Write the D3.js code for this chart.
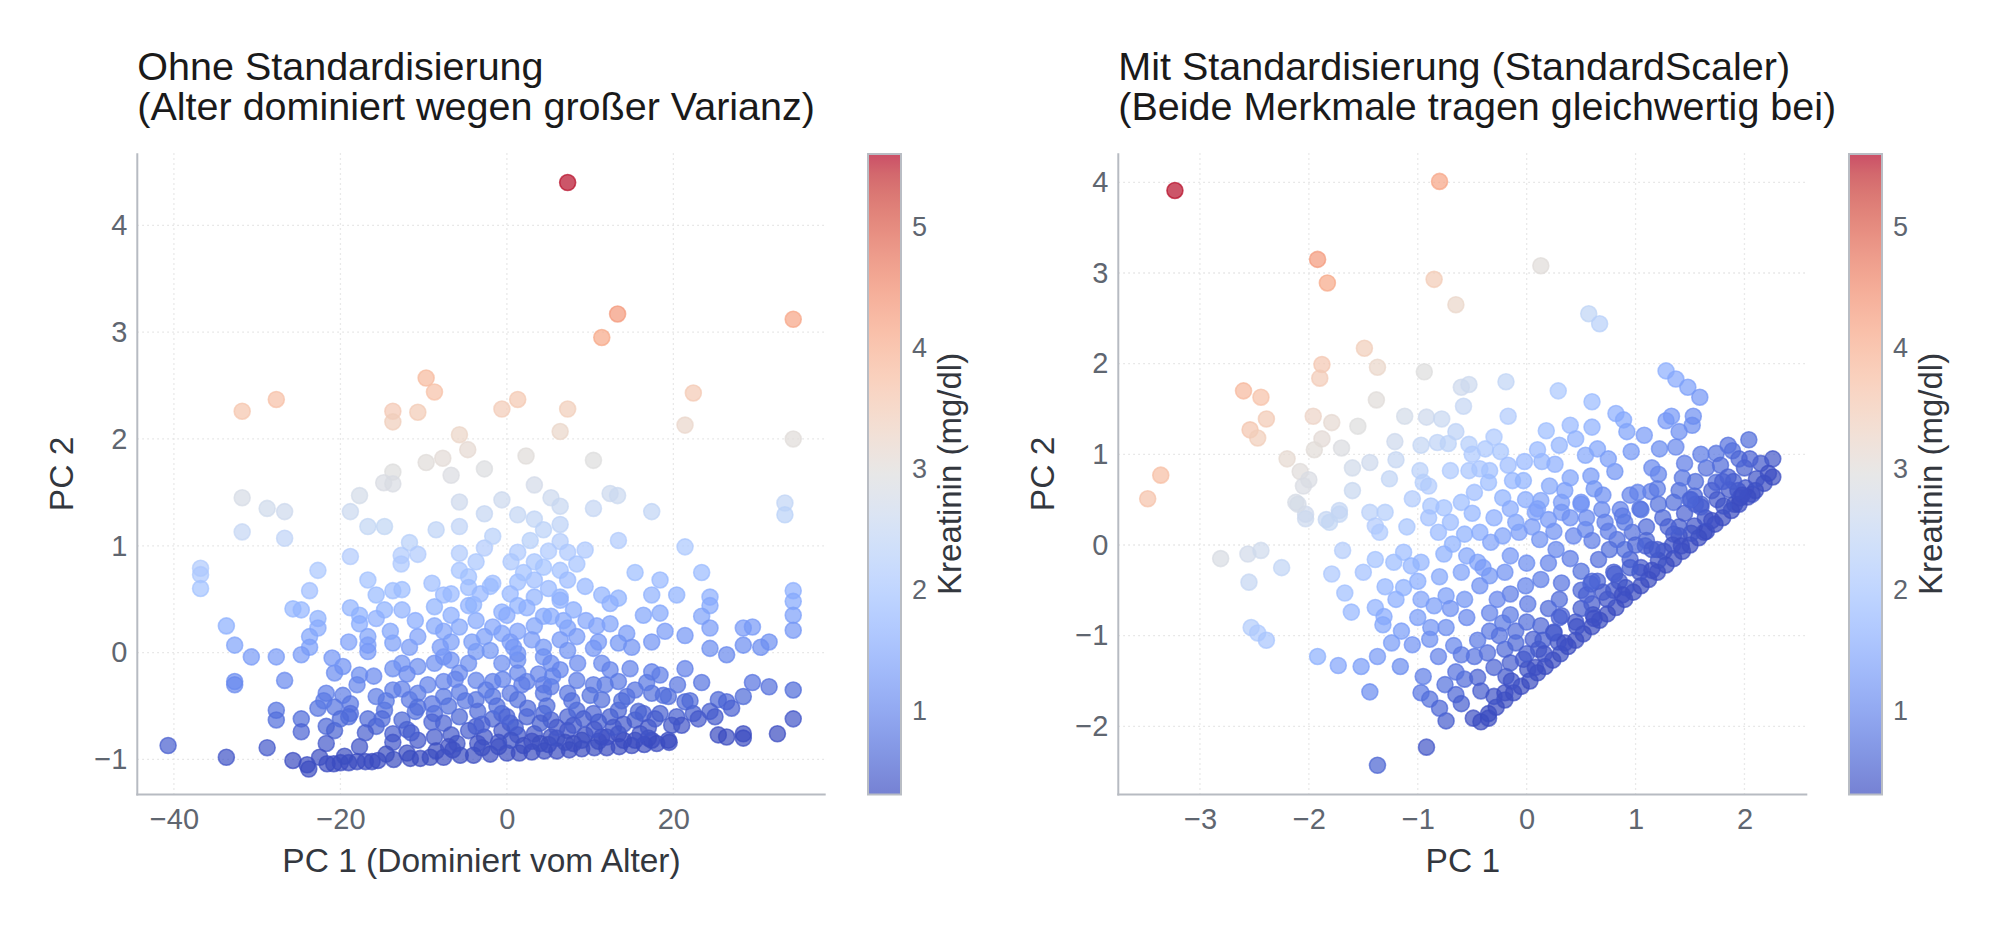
<!DOCTYPE html>
<html>
<head>
<meta charset="utf-8">
<script src="https://cdn.jsdelivr.net/npm/d3@7"></script>
<style>
  body { margin: 0; background: #fff; }
  text { font-family: "Liberation Sans", Arial, sans-serif; }
</style>
</head>
<body>
<div id="chart"></div>
<script>
// Kreatinin colour range and colorbar ticks
const kreatininRange = [0.312, 5.606];
const kreatininTicks = [1, 2, 3, 4, 5];

// coolwarm colormap anchors (low -> high)
const coolwarm = [
  "#3b4cc0","#445acc","#4d68d7","#5775e1","#6282ea","#6c8ef1","#779af7","#82a5fb",
  "#8db0fe","#98b9ff","#a3c2ff","#aec9fd","#b8d0f9","#c2d5f4","#ccd9ee","#d5dbe6",
  "#dddddd","#e5d8d1","#ecd3c5","#f1ccb8","#f5c4ac","#f7bb9f","#f7b193","#f7a686",
  "#f49a7b","#f18d6f","#ec7f63","#e57059","#de604d","#d55042","#cb3e38","#c0282f","#b40426"
];

// axis ticks
const ohneXTicks = [-40, -20, 0, 20];
const ohneYTicks = [-1, 0, 1, 2, 3, 4];
const mitXTicks = [-3, -2, -1, 0, 1, 2];
const mitYTicks = [-2, -1, 0, 1, 2, 3, 4];

// Ohne Standardisierung: [PC 1, PC 2, Kreatinin]
const ohneStd = [
  [7.3,4.40,5.56],[13.3,3.17,4.30],[11.4,2.95,4.09],[34.4,3.12,4.15],[-9.7,2.57,3.82],[-8.7,2.44,3.68],
  [-27.7,2.37,3.71],[-31.8,2.26,3.62],[-13.7,2.26,3.53],[-13.7,2.16,3.43],[-10.7,2.25,3.50],[-0.6,2.28,3.48],
  [1.3,2.37,3.56],[7.3,2.28,3.44],[22.4,2.43,3.52],[21.4,2.13,3.22],[6.4,2.07,3.24],[-5.7,2.04,3.27],
  [-4.7,1.90,3.12],[34.4,2.00,3.03],[-7.7,1.82,3.06],[-9.7,1.78,3.03],[2.3,1.84,3.03],[10.4,1.80,2.95],
  [-2.7,1.72,2.93],[-13.7,1.69,2.96],[-14.8,1.59,2.86],[-13.7,1.58,2.85],[-6.7,1.66,2.89],[3.3,1.57,2.75],
  [-31.8,1.45,2.81],[-17.7,1.47,2.76],[-28.8,1.35,2.69],[-26.7,1.32,2.65],[-18.8,1.32,2.61],[-5.7,1.41,2.64],
  [-0.6,1.43,2.63],[5.3,1.45,2.62],[6.4,1.37,2.54],[12.4,1.49,2.63],[13.3,1.47,2.60],[10.4,1.35,2.50],
  [17.4,1.32,2.43],[33.4,1.40,2.43],[33.4,1.29,2.32],[-2.7,1.30,2.51],[1.3,1.29,2.48],[3.3,1.25,2.43],
  [-31.8,1.13,2.49],[-26.7,1.07,2.41],[-16.7,1.18,2.46],[-14.7,1.18,2.45],[-5.7,1.18,2.41],[6.4,1.20,2.37],
  [4.4,1.15,2.33],[13.4,1.05,2.18],[-11.7,1.03,2.29],[-18.8,0.90,2.19],[-12.7,0.91,2.17],[-10.7,0.92,2.17],
  [-5.7,0.93,2.16],[-2.7,0.98,2.19],[-1.7,1.09,2.30],[1.3,0.94,2.13],[6.4,1.04,2.21],[7.3,0.94,2.10],
  [9.4,0.96,2.11],[8.4,0.83,1.99],[3.3,0.85,2.03],[4.4,0.80,1.98],[21.4,0.99,2.08],[-12.7,0.83,2.10],
  [-3.7,0.85,2.07],[-36.8,0.79,2.17],[-36.8,0.73,2.11],[-36.8,0.60,1.98],[-22.7,0.77,2.08],[-5.7,0.77,2.00],
  [-4.6,0.71,1.93],[6.4,0.77,1.94],[15.4,0.75,1.87],[23.4,0.75,1.83],[-16.7,0.68,1.96],[1.3,0.66,1.85],
  [-1.7,0.65,1.86],[3.3,0.68,1.86],[7.3,0.68,1.84],[9.4,0.62,1.77],[18.4,0.68,1.79],[-23.7,0.58,1.90],
  [-15.7,0.54,1.82],[-13.7,0.58,1.85],[-12.6,0.59,1.85],[-7.6,0.54,1.78],[-6.7,0.55,1.78],[-4.6,0.61,1.83],
  [0.4,0.55,1.75],[3.3,0.52,1.71],[6.4,0.52,1.69],[11.4,0.54,1.68],[13.4,0.51,1.64],[17.4,0.54,1.65],
  [20.4,0.54,1.64],[24.4,0.52,1.60],[34.4,0.58,1.61],[34.4,0.48,1.51],[-25.7,0.41,1.74],[-24.7,0.40,1.72],
  [-18.8,0.42,1.71],[-14.7,0.40,1.67],[-12.6,0.40,1.66],[-8.7,0.43,1.67],[-4.6,0.44,1.66],[-0.6,0.38,1.58],
  [1.3,0.44,1.63],[2.4,0.42,1.61],[4.4,0.34,1.52],[6.4,0.49,1.66],[12.4,0.46,1.60],[16.4,0.35,1.47],
  [18.4,0.37,1.48],[24.4,0.44,1.52],[23.4,0.34,1.42],[34.4,0.35,1.38],[-22.7,0.32,1.63],[-17.7,0.35,1.64],
  [-17.7,0.27,1.56],[-15.7,0.32,1.60],[-6.7,0.35,1.58],[-3.7,0.30,1.52],[-5.7,0.24,1.47],[-33.7,0.25,1.62],
  [-22.7,0.23,1.54],[-16.7,0.15,1.43],[-8.7,0.25,1.49],[-7.6,0.20,1.44],[-1.7,0.24,1.45],[-0.6,0.18,1.38],
  [1.3,0.20,1.39],[3.3,0.25,1.43],[5.3,0.34,1.51],[7.3,0.23,1.39],[8.4,0.15,1.31],[12.4,0.27,1.41],
  [14.4,0.18,1.31],[21.4,0.16,1.25],[24.4,0.23,1.31],[28.4,0.23,1.29],[29.5,0.24,1.29],[34.4,0.21,1.24],
  [-23.7,0.15,1.47],[-32.7,0.07,1.43],[-23.7,0.05,1.37],[-16.7,0.07,1.35],[-13.7,0.09,1.36],[-11.7,0.05,1.31],
  [-10.7,0.15,1.40],[-6.7,0.10,1.33],[-2.7,0.15,1.36],[0.4,0.10,1.30],[4.4,0.05,1.23],[6.4,0.12,1.29],
  [10.4,0.04,1.19],[13.4,0.09,1.22],[17.4,0.10,1.21],[24.4,0.04,1.12],[28.4,0.07,1.13],[30.5,0.05,1.10],
  [31.5,0.10,1.14],[-16.7,0.01,1.29],[-24.7,-0.02,1.30],[-30.7,-0.04,1.31],[-27.7,-0.04,1.30],[-3.7,0.01,1.23],
  [-7.6,-0.04,1.20],[1.3,-0.01,1.18],[4.4,-0.04,1.14],[7.3,0.02,1.18],[26.4,-0.02,1.05],[-13.7,-0.15,1.12],
  [-12.6,-0.10,1.16],[-10.7,-0.13,1.12],[-8.7,-0.10,1.14],[-6.7,-0.07,1.16],[-4.6,-0.10,1.12],[-0.6,-0.10,1.10],
  [1.3,-0.07,1.12],[5.3,-0.10,1.07],[6.4,-0.16,1.01],[11.4,-0.10,1.04],[12.4,-0.16,0.98],[17.4,-0.18,0.93],
  [18.4,-0.21,0.90],[21.4,-0.15,0.94],[-20.7,-0.19,1.11],[-19.7,-0.13,1.17],[-17.7,-0.21,1.08],[-32.7,-0.27,1.10],
  [-32.7,-0.30,1.07],[-26.7,-0.26,1.07],[-7.6,-0.27,0.97],[-5.7,-0.19,1.04],[-3.7,-0.26,0.96],[-1.7,-0.27,0.94],
  [1.3,-0.19,1.00],[2.4,-0.27,0.92],[4.4,-0.30,0.88],[8.4,-0.26,0.90],[10.4,-0.30,0.85],[13.4,-0.27,0.86],
  [23.4,-0.28,0.80],[29.5,-0.28,0.77],[31.5,-0.32,0.72],[34.4,-0.35,0.68],[28.4,-0.41,0.65],[-21.7,-0.38,0.93],
  [-19.7,-0.40,0.90],[-18.8,-0.48,0.81],[-15.7,-0.41,0.87],[-13.7,-0.35,0.92],[-12.6,-0.34,0.92],[-11.7,-0.44,0.82],
  [-10.7,-0.38,0.87],[-7.6,-0.41,0.83],[-5.7,-0.37,0.86],[-3.7,-0.44,0.78],[-1.7,-0.41,0.80],[0.4,-0.38,0.82],
  [1.3,-0.44,0.75],[4.4,-0.38,0.80],[5.3,-0.32,0.85],[7.3,-0.38,0.78],[11.4,-0.44,0.70],[14.4,-0.41,0.72],
  [15.4,-0.35,0.77],[17.4,-0.38,0.73],[19.4,-0.41,0.69],[21.4,-0.46,0.63],[25.4,-0.44,0.63],[26.4,-0.46,0.61],
  [-27.7,-0.54,0.80],[-27.7,-0.63,0.71],[-24.7,-0.62,0.70],[-22.7,-0.52,0.79],[-20.7,-0.51,0.79],[-18.8,-0.57,0.72],
  [-16.7,-0.62,0.66],[-14.7,-0.54,0.73],[-12.6,-0.63,0.63],[-10.7,-0.51,0.74],[-8.7,-0.57,0.67],[-7.6,-0.66,0.58],
  [-5.7,-0.60,0.63],[-3.7,-0.69,0.53],[-1.7,-0.62,0.59],[-0.6,-0.57,0.63],[0.4,-0.66,0.54],[2.4,-0.60,0.59],
  [4.4,-0.57,0.61],[5.3,-0.63,0.54],[7.3,-0.60,0.56],[8.4,-0.54,0.62],[10.4,-0.57,0.58],[12.4,-0.60,0.54],
  [13.4,-0.54,0.59],[15.4,-0.63,0.49],[16.4,-0.57,0.55],[18.4,-0.57,0.54],[20.4,-0.60,0.50],[22.4,-0.57,0.52],
  [24.4,-0.55,0.53],[34.4,-0.62,0.41],[-21.7,-0.69,0.62],[-20.7,-0.73,0.57],[-24.7,-0.74,0.58],[-15.7,-0.69,0.59],
  [-13.7,-0.76,0.51],[-13.7,-0.84,0.43],[-10.7,-0.82,0.43],[-8.7,-0.79,0.45],[-6.7,-0.77,0.46],[-4.6,-0.73,0.49],
  [-2.7,-0.79,0.42],[-0.6,-0.73,0.47],[1.3,-0.77,0.42],[3.3,-0.76,0.42],[5.3,-0.79,0.38],[7.3,-0.73,0.43],
  [9.4,-0.77,0.38],[11.4,-0.79,0.35],[13.4,-0.76,0.37],[15.4,-0.82,0.31],[17.4,-0.82,0.31],[19.4,-0.82,0.31],
  [25.4,-0.77,0.31],[26.4,-0.79,0.31],[28.4,-0.76,0.31],[28.4,-0.80,0.31],[32.5,-0.76,0.31],[-40.7,-0.87,0.53],
  [-33.7,-0.98,0.39],[-28.8,-0.89,0.45],[-21.7,-0.85,0.46],[-17.7,-0.88,0.41],
  [-25.7,-1.01,0.31],[-24.0,-1.05,0.31],[-23.8,-1.09,0.31],[-21.6,-1.04,0.31],[-20.8,-1.04,0.31],[-20.0,-1.03,0.31],
  [-19.0,-1.03,0.31],[-18.0,-1.02,0.31],[-17.0,-1.02,0.31],[-16.2,-1.02,0.31],[-15.5,-1.01,0.31],[-13.6,-1.00,0.32],
  [-11.6,-0.99,0.32],[-10.4,-0.99,0.31],[-9.2,-0.98,0.32],[-7.6,-0.98,0.31],[-5.6,-0.96,0.32],[-4.0,-0.96,0.32],
  [-2.0,-0.95,0.31],[0.0,-0.94,0.32],[1.5,-0.94,0.31],[3.0,-0.93,0.31],[4.5,-0.92,0.32],[6.0,-0.92,0.31],
  [7.5,-0.91,0.31],[9.0,-0.90,0.31],[10.5,-0.89,0.32],[12.0,-0.89,0.31],[13.5,-0.88,0.31],[15.0,-0.87,0.31],
  [16.5,-0.86,0.31],[18.0,-0.85,0.31],[19.5,-0.84,0.31],
  [-22.5,-0.98,0.34],[-19.5,-0.97,0.33],[-14.5,-0.95,0.33],[-12.0,-0.94,0.32],[-8.5,-0.92,0.32],[-6.5,-0.91,0.32],
  [-3.0,-0.89,0.33],[-1.0,-0.88,0.33],[2.0,-0.87,0.32],[5.0,-0.86,0.32],[8.0,-0.85,0.31],[11.0,-0.83,0.32],
  [14.0,-0.82,0.31],[17.0,-0.80,0.31],
  [-6.0,-0.85,0.38],[-1.0,-0.84,0.37],[3.0,-0.83,0.36],[6.0,-0.80,0.38],[9.0,-0.82,0.33],[12.0,-0.79,0.35],
  [16.0,-0.76,0.37],[-9.0,-0.65,0.60],[-3.0,-0.67,0.55],[1.0,-0.70,0.50],[4.0,-0.66,0.52],[8.0,-0.68,0.48],
  [11.0,-0.65,0.50],[14.0,-0.67,0.46],[17.0,-0.70,0.41],[21.0,-0.68,0.40],[-12.0,-0.72,0.54],[-15.0,-0.62,0.66],
  [-19.0,-0.60,0.71],
  [-18.0,-0.30,1.00],[-16.0,-0.22,1.06],[-14.5,-0.45,0.83],[-12.0,-0.20,1.06],[-11.0,-0.55,0.71],[-9.5,-0.30,0.95],
  [-9.0,-0.48,0.77],[-8.0,0.05,1.29],[-7.0,-0.50,0.74],[-6.2,-0.25,0.98],[-5.0,-0.45,0.78],[-4.2,0.10,1.32],
  [-3.5,-0.55,0.67],[-2.5,-0.35,0.86],[-2.0,0.02,1.23],[-1.2,-0.50,0.71],[-0.5,-0.25,0.95],[0.0,-0.60,0.60],
  [0.8,0.05,1.25],[1.8,-0.30,0.89],[2.5,-0.52,0.67],[3.0,0.12,1.30],[3.8,-0.20,0.98],[4.8,-0.50,0.68],
  [5.5,-0.22,0.95],[6.0,-0.70,0.47],[6.8,0.30,1.47],[7.8,-0.45,0.71],[8.5,-0.10,1.06],[9.2,-0.62,0.53],
  [10.0,-0.40,0.75],[10.8,0.25,1.40],[11.8,-0.30,0.84],[12.8,-0.70,0.44],[13.8,-0.45,0.68],[14.8,-0.15,0.98],
  [15.8,-0.55,0.57],[16.8,-0.28,0.83],[17.8,-0.62,0.49],[18.8,-0.40,0.71],[19.8,-0.68,0.42],[20.5,-0.30,0.80],
  [22.0,-0.45,0.64],[23.0,-0.62,0.47],[25.0,-0.60,0.48],[27.0,-0.52,0.55],[-20.0,-0.62,0.68],[-22.0,-0.45,0.86],
  [-17.0,-0.75,0.53],[-11.5,-0.75,0.51],[-7.0,-0.88,0.36],[-3.5,-0.85,0.37],[0.5,-0.82,0.38],[4.0,-0.85,0.33],
  [7.0,-0.84,0.33],[10.5,-0.72,0.43],[-4.0,0.45,1.67],[-2.0,0.62,1.83],[0.0,0.35,1.55],[2.0,0.75,1.94],
  [5.0,0.60,1.78],[8.0,0.40,1.56],[-9.0,0.65,1.89],[-11.0,0.30,1.56],[-14.0,0.20,1.47],[-19.0,0.10,1.40],
  [-21.0,-0.05,1.25],[9.5,0.30,1.45],[11.0,0.10,1.25],[15.0,0.05,1.18],[19.0,0.20,1.30],[2.8,1.05,2.24],
  [-8.5,1.15,2.39],[0.5,0.85,2.05],[-3.2,0.55,1.77],[5.0,0.95,2.13]
];

// Mit Standardisierung: [PC 1, PC 2, Kreatinin]
const mitStd = [
  [-3.23,3.91,5.56],[-0.80,4.01,4.14],[-1.92,3.15,4.30],[-1.83,2.89,4.09],[-0.85,2.93,3.50],[-0.65,2.65,3.23],
  [0.13,3.08,3.01],[0.57,2.55,2.42],[0.67,2.44,2.29],[-1.49,2.17,3.44],[-1.88,1.99,3.57],[-1.90,1.84,3.48],
  [-1.37,1.96,3.24],[-0.94,1.91,2.95],[-2.60,1.70,3.83],[-2.44,1.63,3.69],[-2.39,1.39,3.51],[-2.54,1.27,3.59],
  [-2.47,1.18,3.44],[-3.36,0.77,3.73],[-3.48,0.51,3.65],[-1.96,1.42,3.28],[-1.79,1.35,3.13],[-1.38,1.60,3.03],
  [-1.55,1.31,2.96],[-1.88,1.17,3.08],[-1.95,1.05,3.04],[-1.70,1.07,2.90],[-2.08,0.81,3.00],[-2.00,0.72,2.87],
  [-2.05,0.65,2.86],[-2.12,0.47,2.79],[-1.12,1.42,2.76],[-0.92,1.41,2.64],[-0.78,1.39,2.54],[-0.60,1.74,2.64],
  [-0.53,1.77,2.62],[-0.58,1.53,2.50],[-0.19,1.80,2.43],[-0.17,1.42,2.18],[0.29,1.70,2.08],[0.60,1.58,1.83],
  [-1.21,1.14,2.65],[-1.44,0.91,2.65],[-1.20,0.94,2.52],[-1.26,0.73,2.43],[-0.97,1.10,2.48],[-0.82,1.13,2.41],
  [-0.72,1.12,2.34],[-0.65,1.25,2.37],[-0.53,1.11,2.22],[-0.30,1.19,2.13],[-0.38,1.06,2.09],[-0.24,1.03,2.01],
  [0.18,1.26,1.88],[0.40,1.32,1.78],[0.45,1.17,1.65],[0.60,1.30,1.65],[0.65,1.06,1.47],[0.82,1.45,1.60],
  [0.89,1.38,1.52],[0.92,1.25,1.42],[1.08,1.21,1.30],[0.96,1.03,1.26],[0.54,0.99,1.49],[1.28,1.92,1.61],
  [1.37,1.83,1.50],[1.48,1.74,1.38],[1.59,1.63,1.24],[1.28,1.37,1.27],[1.33,1.42,1.27],[1.53,1.42,1.15],
  [1.52,1.32,1.10],[1.40,1.25,1.13],[1.22,1.06,1.12],[1.37,1.08,1.04],[2.04,1.16,0.69],[1.89,1.04,0.70],
  [1.74,1.01,0.78],[2.26,0.95,0.42],[2.26,0.75,0.31],[1.78,0.88,0.67],[1.74,0.69,0.64],[2.07,0.56,0.39],
  [2.01,0.63,0.47],[1.86,0.61,0.46],[1.70,0.60,0.55],[1.54,0.54,0.61],[1.40,0.60,0.73],[1.43,0.74,0.80],
  [1.21,0.78,0.96],[1.14,0.59,0.89],[1.02,0.58,0.96],[0.81,0.81,1.22],[0.59,0.76,1.28],[0.62,0.62,1.22],
  [0.40,0.74,1.43],[0.21,0.65,1.49],[-0.02,0.92,1.79],[0.14,0.92,1.69],[0.26,0.89,1.60],[-0.17,0.88,1.86],
  [-0.34,0.82,1.92],[-0.43,0.84,1.99],[-0.53,0.82,2.04],[-0.70,0.82,2.14],[-0.98,0.82,2.31],[-0.95,0.69,2.22],
  [-0.35,0.69,1.85],[-0.13,0.71,1.73],[-0.03,0.71,1.67],[-0.48,0.58,1.86],[-0.22,0.52,1.67],[0.50,0.47,1.20],
  [0.32,0.47,1.31],[0.13,0.49,1.43],[-0.01,0.50,1.53],[-1.05,0.51,2.17],[-0.88,0.43,2.02],[-0.76,0.41,1.93],
  [-0.60,0.47,1.87],[-1.44,0.36,2.31],[-1.30,0.36,2.23],[-1.72,0.38,2.49],[-1.84,0.28,2.51],[-2.03,0.34,2.66],
  [0.69,0.39,1.04],[0.86,0.39,0.93],[1.04,0.40,0.83],[1.21,0.45,0.75],[1.35,0.47,0.69],[1.51,0.50,0.61],
  [1.91,0.45,0.33],[1.96,0.52,0.35],
  [-2.10,0.45,2.77],[-2.03,0.29,2.63],[-1.81,0.25,2.47],[-1.72,0.34,2.48],[-1.39,0.21,2.19],[-1.35,0.14,2.13],
  [-2.81,-0.15,2.84],[-2.56,-0.10,2.72],[-2.44,-0.06,2.67],[-2.55,-0.41,2.52],[-2.25,-0.25,2.44],[-1.69,-0.06,2.21],
  [-1.39,-0.16,1.97],[-1.79,-0.32,2.11],[-1.67,-0.53,1.91],[-1.61,-0.74,1.75],[-1.39,-0.69,1.65],[-1.31,-0.79,1.54],
  [-1.32,-0.88,1.49],[-1.15,-0.95,1.34],[-1.24,-1.08,1.32],[-2.53,-0.91,2.20],[-2.47,-0.97,2.13],[-2.39,-1.05,2.04],
  [-1.92,-1.23,1.64],[-1.73,-1.33,1.45],[-1.52,-1.34,1.33],[-1.37,-1.23,1.30],[-1.16,-1.34,1.12],[-1.44,-1.62,1.10],
  [-1.13,-0.08,1.86],[-1.22,-0.19,1.85],[-1.06,-0.23,1.73],[-0.97,-0.19,1.70],[-1.30,-0.46,1.73],[-1.13,-0.47,1.63],
  [-0.97,-0.60,1.44],[-0.85,-0.67,1.33],[-0.74,-0.56,1.33],[-0.88,-0.91,1.21],[-0.89,-1.04,1.14],[-0.74,-0.91,1.12],
  [-0.81,-1.23,0.98],[-0.67,-1.11,1.00],[-0.60,-1.21,0.85],[-0.48,-1.23,0.77],[-0.57,-1.48,0.67],[-0.45,-1.46,0.60],
  [-0.75,-1.54,0.74],[-0.97,-1.63,0.82],[-0.89,-1.70,0.73],[-0.65,-1.65,0.61],[-0.42,-1.61,0.49],[-0.19,-1.45,0.45],
  [-0.74,-1.94,0.49],[-0.49,-1.91,0.36],[-0.35,-1.91,0.31],[-0.92,-2.23,0.42],[-1.37,-2.43,0.57],
  [-0.81,0.14,1.80],[-0.68,0.01,1.64],[-0.57,0.12,1.64],[-0.43,0.14,1.56],[-0.76,-0.10,1.62],[-0.55,-0.12,1.47],
  [-0.45,-0.19,1.38],[-0.33,0.03,1.44],[-0.22,0.10,1.41],[-0.07,0.14,1.35],[0.08,0.36,1.39],[0.20,0.28,1.27],
  [0.32,0.36,1.24],[0.50,0.45,1.19],[-0.15,-0.12,1.24],[0.12,0.06,1.18],[0.27,-0.05,1.03],[0.43,0.10,1.02],
  [0.54,0.17,1.00],[0.72,0.25,0.93],[0.88,0.32,0.88],[1.05,0.39,0.82],[0.97,0.14,0.72],[1.09,-0.01,0.55],
  [1.26,-0.07,0.41],[1.40,0.10,0.43],[1.54,0.21,0.41],[1.63,0.14,0.35],[0.66,-0.16,0.72],[0.50,-0.29,0.74],
  [0.59,-0.43,0.60],[0.81,-0.32,0.53],[0.95,-0.16,0.55],[0.32,-0.42,0.77],[0.13,-0.38,0.91],[-0.01,-0.45,0.95],
  [-0.15,-0.54,0.90],[0.01,-0.65,0.82],[-0.27,-0.60,1.02],[-0.34,-0.34,1.22],[-0.43,-0.45,1.17],[-0.57,-0.60,1.22],
  [-0.34,-0.75,0.97],[-0.22,-0.86,0.83],[-0.15,-0.77,0.84],[0.13,-0.89,0.60],[0.32,-0.78,0.55],[0.06,-1.04,0.55],
  [-0.10,-1.08,0.62],[-0.03,-1.26,0.47],[0.11,-1.15,0.45],[0.25,-0.97,0.48],[-0.34,-0.95,0.85],[-0.36,-1.19,0.72],
  [-0.20,-1.15,0.64],[0.83,0.06,0.76],[0.76,-0.05,0.73],
  [-0.90,0.30,1.95],[-0.70,0.25,1.80],[-0.50,0.35,1.73],[-0.30,0.30,1.59],[-0.10,0.25,1.43],[0.05,0.20,1.31],
  [0.25,0.15,1.16],[0.40,0.30,1.16],[0.60,0.05,0.89],[0.75,0.15,0.88],[0.90,0.25,0.83],[1.10,0.20,0.67],
  [1.25,0.30,0.64],[1.45,0.35,0.55],[1.60,0.45,0.52],[1.75,0.50,0.46],[1.85,0.75,0.55],[2.00,0.85,0.52],
  [2.15,0.90,0.46],[1.95,0.95,0.61],[1.65,0.85,0.72],[1.55,0.70,0.70],[1.20,0.62,0.87],[0.95,0.55,0.98],
  [0.70,0.55,1.13],[-0.80,-0.35,1.49],[-0.60,-0.30,1.41],[-0.40,-0.25,1.31],[-0.20,-0.30,1.16],[0.00,-0.20,1.10],
  [0.20,-0.20,0.98],[0.40,-0.15,0.89],[0.30,-0.60,0.67],[0.50,-0.50,0.61],[0.65,-0.40,0.58],[0.80,-0.50,0.42],
  [0.20,-0.70,0.67],[0.00,-0.85,0.70],[-0.25,-1.00,0.76],[-0.10,-0.95,0.72],[0.15,-1.05,0.49],[-0.55,-0.80,1.06],
  [-0.70,-0.70,1.17],[-0.45,-1.05,0.86],[-0.65,-1.40,0.76],[-0.30,-1.35,0.58],[-0.15,-1.30,0.53],[-1.00,-0.40,1.58],
  [-1.20,-0.60,1.58],[-1.00,-0.80,1.34],[-1.05,-1.10,1.19],[-0.95,-1.45,0.91],[-0.80,-1.80,0.61],[-0.60,-1.75,0.52],
  [0.45,-0.85,0.43],[0.60,-0.65,0.46],[0.85,-0.40,0.46],[1.05,-0.25,0.43],[1.20,-0.05,0.47],[1.35,0.12,0.46],
  [0.90,-0.05,0.71],[1.10,0.05,0.59],[0.35,0.60,1.37],[0.10,0.40,1.40],[-0.15,0.40,1.55],[0.55,0.30,1.07],
  [1.45,0.90,0.89],[1.60,1.00,0.86],[1.85,1.10,0.76],[1.15,0.85,1.04],[-1.60,0.60,2.56],[-1.10,0.20,2.01],
  [-1.50,-0.30,1.95],[-0.90,0.65,2.16],[-0.50,1.00,2.13],[0.10,1.05,1.79],[0.75,0.95,1.34],[0.30,1.10,1.70],
  [-2.20,0.95,3.14],[-1.60,0.85,2.71],
  [-0.42,-1.95,0.31],[-0.35,-1.86,0.32],[-0.28,-1.79,0.31],[-0.20,-1.71,0.32],[-0.12,-1.63,0.31],[-0.05,-1.56,0.31],
  [0.03,-1.50,0.31],[0.10,-1.41,0.32],[0.17,-1.34,0.31],[0.24,-1.27,0.31],[0.31,-1.20,0.32],[0.38,-1.12,0.31],
  [0.45,-1.05,0.31],[0.52,-0.98,0.31],[0.60,-0.90,0.31],[0.67,-0.83,0.32],[0.74,-0.76,0.31],[0.82,-0.69,0.31],
  [0.90,-0.60,0.31],[0.98,-0.52,0.31],[1.05,-0.45,0.31],[1.12,-0.38,0.31],[1.20,-0.30,0.31],[1.28,-0.22,0.31],
  [1.35,-0.15,0.31],[1.43,-0.07,0.31],[1.50,0.00,0.31],[1.58,0.08,0.31],[1.65,0.15,0.31],[1.73,0.23,0.31],
  [1.80,0.30,0.31],[1.88,0.38,0.31],[1.95,0.45,0.31],[2.03,0.53,0.31],[2.10,0.60,0.31],[2.18,0.68,0.31],
  [-0.30,-1.67,0.39],[-0.14,-1.50,0.40],[0.01,-1.37,0.38],[0.16,-1.20,0.40],[0.29,-1.07,0.39],[0.46,-0.90,0.40],
  [0.61,-0.77,0.38],[0.74,-0.60,0.40],[0.91,-0.47,0.39],[1.04,-0.30,0.41],[1.21,-0.17,0.38],[1.34,0.00,0.40],
  [1.51,0.13,0.38],[1.64,0.30,0.41],[1.81,0.43,0.38],[1.94,0.60,0.41],[2.11,0.73,0.39],
  [0.00,-1.20,0.49],[0.25,-0.96,0.48],[0.50,-0.70,0.49],[0.70,-0.52,0.48],[0.95,-0.25,0.50],[1.15,-0.05,0.49],
  [1.40,0.20,0.49],[1.60,0.42,0.51],[1.90,0.70,0.49],
  [-0.20,-1.63,0.35],[0.08,-1.35,0.35],[0.35,-1.08,0.35],[0.62,-0.81,0.35],[0.88,-0.55,0.35],[1.15,-0.28,0.35],
  [1.42,-0.01,0.35],[1.70,0.27,0.35],[1.98,0.55,0.35],[2.22,0.79,0.35],
  [0.30,-0.80,0.55],[0.55,-0.55,0.55],[0.80,-0.30,0.55],[1.30,0.20,0.55],[1.55,0.45,0.55],[1.80,0.70,0.55],
  [2.05,0.95,0.55],[0.60,-0.40,0.61],[1.00,0.00,0.61],[1.50,0.50,0.61]
];

const W = 1999, H = 928;
const plotTop = 153.3, plotBottom = 794.5;

const colorInterp = d3.piecewise(d3.interpolateRgb, coolwarm);
const kScale = d3.scaleLinear().domain(kreatininRange).range([0, 1]).clamp(true);
const colorOf = k => colorInterp(kScale(k));
const intFormat = d3.format("d");

const svg = d3.select("#chart").append("svg")
  .attr("width", W)
  .attr("height", H);

const defs = svg.append("defs");
const grad = defs.append("linearGradient")
  .attr("id", "coolwarmGrad")
  .attr("x1", 0).attr("y1", 1).attr("x2", 0).attr("y2", 0);
grad.selectAll("stop")
  .data(coolwarm)
  .join("stop")
  .attr("offset", (d, i) => i / (coolwarm.length - 1))
  .attr("stop-color", d => d)
  .attr("stop-opacity", 0.7);

function drawPanel(cfg) {
  const x = d3.scaleLinear().domain(cfg.xDomain).range([cfg.left, cfg.right]);
  const y = d3.scaleLinear().domain(cfg.yDomain).range([plotBottom, plotTop]);
  const g = svg.append("g");

  // dotted grid
  g.append("g").selectAll("line")
    .data(cfg.xTicks)
    .join("line")
    .attr("x1", d => x(d)).attr("x2", d => x(d))
    .attr("y1", plotTop).attr("y2", plotBottom)
    .attr("stroke", "#e2e2e2").attr("stroke-width", 1.3)
    .attr("stroke-dasharray", "1.5,3.5");
  g.append("g").selectAll("line")
    .data(cfg.yTicks)
    .join("line")
    .attr("x1", cfg.left).attr("x2", cfg.right)
    .attr("y1", d => y(d)).attr("y2", d => y(d))
    .attr("stroke", "#e2e2e2").attr("stroke-width", 1.3)
    .attr("stroke-dasharray", "1.5,3.5");

  // points
  g.append("g").selectAll("circle")
    .data(cfg.points)
    .join("circle")
    .attr("cx", d => x(d[0]))
    .attr("cy", d => y(d[1]))
    .attr("r", 8)
    .attr("fill", d => colorOf(d[2]))
    .attr("fill-opacity", 0.7)
    .attr("stroke", d => colorOf(d[2]))
    .attr("stroke-opacity", 0.7)
    .attr("stroke-width", 1.6);

  // axes
  const xAxis = g.append("g")
    .attr("transform", "translate(0," + plotBottom + ")")
    .call(d3.axisBottom(x).tickValues(cfg.xTicks).tickFormat(intFormat).tickSize(0).tickPadding(14));
  const yAxis = g.append("g")
    .attr("transform", "translate(" + cfg.left + ",0)")
    .call(d3.axisLeft(y).tickValues(cfg.yTicks).tickFormat(intFormat).tickSize(0).tickPadding(10));
  [xAxis, yAxis].forEach(a => {
    a.select(".domain").remove();
    a.selectAll("text")
      .style("font-size", "29px")
      .style("font-family", "'Liberation Sans', Arial, sans-serif")
      .attr("fill", "#5f6670");
  });

  // spines
  g.append("line")
    .attr("x1", cfg.left).attr("x2", cfg.left)
    .attr("y1", plotTop).attr("y2", plotBottom + 1)
    .attr("stroke", "#b7bbc2").attr("stroke-width", 2);
  g.append("line")
    .attr("x1", cfg.left - 1).attr("x2", cfg.right)
    .attr("y1", plotBottom).attr("y2", plotBottom)
    .attr("stroke", "#b7bbc2").attr("stroke-width", 2);

  // titles & labels
  cfg.title.forEach((t, i) => {
    g.append("text")
      .attr("x", cfg.left)
      .attr("y", 79.5 + i * 40.5)
      .attr("font-size", 39.5)
      .attr("fill", "#1a1a1a")
      .text(t);
  });
  g.append("text")
    .attr("x", (cfg.left + cfg.right) / 2)
    .attr("y", 871.5)
    .attr("text-anchor", "middle")
    .attr("font-size", 33.5)
    .attr("fill", "#33373e")
    .text(cfg.xLabel);
  g.append("text")
    .attr("transform", "translate(" + cfg.yLabelX + "," + ((plotTop + plotBottom) / 2) + ") rotate(-90)")
    .attr("text-anchor", "middle")
    .attr("font-size", 33.5)
    .attr("fill", "#33373e")
    .text("PC 2");

  // colorbar
  const cb = d3.scaleLinear().domain(kreatininRange).range([plotBottom, plotTop + 0.7]);
  g.append("rect")
    .attr("x", cfg.cbX).attr("y", cb.range()[1])
    .attr("width", 33).attr("height", plotBottom - cb.range()[1])
    .attr("fill", "url(#coolwarmGrad)")
    .attr("stroke", "#b9bdc4").attr("stroke-width", 2);
  const cbAxis = g.append("g")
    .attr("transform", "translate(" + (cfg.cbX + 33) + ",0)")
    .call(d3.axisRight(cb).tickValues(kreatininTicks).tickFormat(intFormat).tickSize(0).tickPadding(11));
  cbAxis.select(".domain").remove();
  cbAxis.selectAll("text")
    .style("font-size", "27px")
    .style("font-family", "'Liberation Sans', Arial, sans-serif")
    .attr("fill", "#5f6670");
  g.append("text")
    .attr("transform", "translate(" + (cfg.cbX + 93) + "," + ((plotTop + plotBottom) / 2) + ") rotate(-90)")
    .attr("text-anchor", "middle")
    .attr("font-size", 33)
    .attr("fill", "#33373e")
    .text("Kreatinin (mg/dl)");
}

drawPanel({
  points: ohneStd,
  left: 137.3, right: 825.7,
  xDomain: [-44.4, 38.3], yDomain: [-1.328, 4.674],
  xTicks: ohneXTicks, yTicks: ohneYTicks,
  title: ["Ohne Standardisierung", "(Alter dominiert wegen großer Varianz)"],
  xLabel: "PC 1 (Dominiert vom Alter)",
  yLabelX: 72.5,
  cbX: 868
});

drawPanel({
  points: mitStd,
  left: 1118.3, right: 1807.3,
  xDomain: [-3.75, 2.577], yDomain: [-2.752, 4.32],
  xTicks: mitXTicks, yTicks: mitYTicks,
  title: ["Mit Standardisierung (StandardScaler)", "(Beide Merkmale tragen gleichwertig bei)"],
  xLabel: "PC 1",
  yLabelX: 1053.5,
  cbX: 1849
});
</script>
</body>
</html>
